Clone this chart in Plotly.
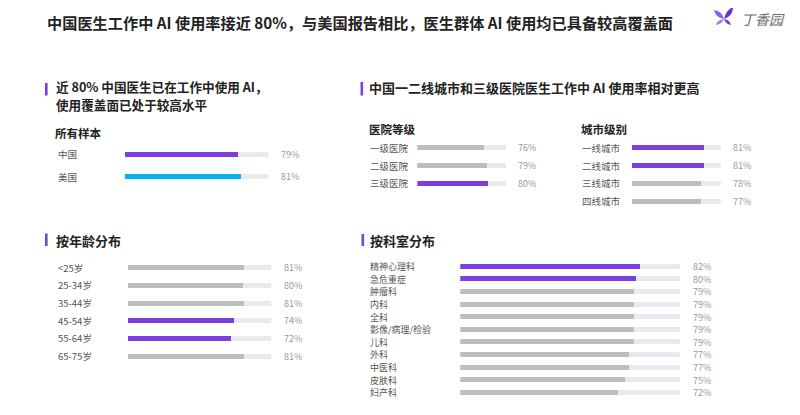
import plotly.graph_objects as go

# the page has an 8px body margin, so the figure is sized to fit inside the window
OFF = 8
W, H = 800 - 2 * OFF, 415 - 2 * OFF

# ---- data ----
title_text = "中国医生工作中 AI 使用率接近 80%，与美国报告相比，医生群体 AI 使用均已具备较高覆盖面"

sample_labels = ["中国", "美国"]
sample_values = [79, 81]

hospital_labels = ["一级医院", "二级医院", "三级医院"]
hospital_values = [76, 79, 80]

city_labels = ["一线城市", "二线城市", "三线城市", "四线城市"]
city_values = [81, 81, 78, 77]

age_labels = ["<25岁", "25-34岁", "35-44岁", "45-54岁", "55-64岁", "65-75岁"]
age_values = [81, 80, 81, 74, 72, 81]

dept_labels = ["精神心理科", "急危重症", "肿瘤科", "内科", "全科", "影像/病理/检验",
               "儿科", "外科", "中医科", "皮肤科", "妇产科"]
dept_values = [82, 80, 79, 79, 79, 79, 79, 77, 77, 75, 72]

# ---- style ----
PURPLE = "#7B3FE0"
CYAN = "#00B4EE"
GRAY = "#BDBDBD"
TRACK = "#E9EAF0"
FONT = "Noto Sans CJK SC"


# screen pixel -> paper coordinates
def px(x):
    return (x - OFF) / W


def py(y):
    return 1 - (y - OFF) / H


fig = go.Figure()
annotations = []
shapes = []

# label list, values, colours, bar x-start, track end, first row y, row step, label x, value x, label size
panels = [
    (sample_labels, sample_values, [PURPLE, CYAN], 125, 268.5, 154.3, 22.3, 56, 290, 9.5),
    (hospital_labels, hospital_values, [GRAY, GRAY, PURPLE], 417.3, 506, 147.7, 17.8, 368, 527, 9.5),
    (city_labels, city_values, [PURPLE, PURPLE, GRAY, GRAY], 631.7, 720.7, 147.7, 17.8, 580, 742, 9.5),
    (age_labels, age_values, [GRAY, GRAY, GRAY, PURPLE, PURPLE, GRAY], 127.7, 271.3, 267.7, 17.67, 56, 293, 9.5),
    (dept_labels, dept_values, [PURPLE, PURPLE] + [GRAY] * 9, 460.3, 680, 266.7, 12.6, 368, 702, 9),
]

for i, (labels, values, colors, x0, x1, y0, step, lab_x, val_x, fs) in enumerate(panels):
    n = len(labels)
    ax = "" if i == 0 else str(i + 1)
    top = y0 - step / 2
    bottom = top + n * step
    bw = 5 / step
    fig.add_trace(go.Bar(x=[100] * n, y=labels, orientation="h", width=bw,
                         marker=dict(color=TRACK, line_width=0), hoverinfo="skip",
                         xaxis="x" + ax, yaxis="y" + ax, showlegend=False))
    fig.add_trace(go.Bar(x=values, y=labels, orientation="h", width=bw,
                         marker=dict(color=colors, line_width=0),
                         xaxis="x" + ax, yaxis="y" + ax, showlegend=False))
    fig.update_layout(**{
        "xaxis" + ax: dict(domain=[px(x0), px(x1)], range=[0, 100], visible=False,
                           anchor="y" + ax, fixedrange=True),
        "yaxis" + ax: dict(domain=[py(bottom), py(top)], range=[n - 0.5, -0.5],
                           visible=False, anchor="x" + ax, type="category", fixedrange=True),
    })
    for lab, v in zip(labels, values):
        annotations.append(dict(x=px(lab_x), xref="paper", y=lab, yref="y" + ax,
                                text=lab.replace("<", "&lt;"), showarrow=False,
                                xanchor="left", yanchor="middle",
                                font=dict(size=fs, color="#555555")))
        annotations.append(dict(x=px(val_x), xref="paper", y=lab, yref="y" + ax,
                                text="%d%%" % v, showarrow=False,
                                xanchor="center", yanchor="middle",
                                font=dict(size=9, color="#9A9A9A")))

# headings: (text, x, y, size)
headings = [
    ("<b>近 80% 中国医生已在工作中使用 AI，</b>", 54, 86, 12.6),
    ("<b>使用覆盖面已处于较高水平</b>", 54, 104, 12.6),
    ("<b>中国一二线城市和三级医院医生工作中 AI 使用率相对更高</b>", 367, 87.5, 13),
    ("<b>按年龄分布</b>", 54, 240, 13),
    ("<b>按科室分布</b>", 368, 240, 13),
    ("<b>所有样本</b>", 53, 133, 11.5),
    ("<b>医院等级</b>", 367, 129, 11.5),
    ("<b>城市级别</b>", 579, 129, 11.5),
]
for txt, x, y, s in headings:
    annotations.append(dict(x=px(x), y=py(y), xref="paper", yref="paper", text=txt,
                            showarrow=False, xanchor="left", yanchor="middle", align="left",
                            font=dict(size=s, color="#222222")))

# purple accent marks next to section headings
for x, ya, yb in [(45, 83, 95.5), (360.5, 82, 95.5), (45, 233.5, 246), (361.5, 234, 246)]:
    shapes.append(dict(type="rect", xref="paper", yref="paper", x0=px(x), x1=px(x + 2.6),
                       y0=py(yb), y1=py(ya), fillcolor=PURPLE, line_width=0))

# main title
annotations.append(dict(x=px(45), y=py(22), xref="paper", yref="paper",
                        text="<b>" + title_text + "</b>", showarrow=False,
                        xanchor="left", yanchor="middle",
                        font=dict(size=15.2, color="#222222")))

# logo
annotations.append(dict(x=px(739), y=py(19), xref="paper", yref="paper", text="<i>丁香园</i>",
                        showarrow=False, xanchor="left", yanchor="middle",
                        font=dict(size=14, color="#6E6E6E")))
petals = [
    ("M 0 0 Q -9 2 -10 9 Q -2 8 0 0 Z", "#8E5CE8"),
    ("M 0 0 Q 2 9 9 12 Q 9 3 0 0 Z", "#6A2FD0"),
    ("M 0 0 Q -7 -1 -8 -6 Q -2 -5 0 0 Z", "#A47CF0"),
    ("M 0 0 Q 6 -1 7 -6 Q 1 -5 0 0 Z", "#7B3FE0"),
]
for p, c in petals:
    shapes.append(dict(type="path", xref="paper", yref="paper", xsizemode="pixel",
                       ysizemode="pixel", xanchor=px(724), yanchor=py(19), path=p,
                       fillcolor=c, line_width=0))

fig.update_layout(
    width=W, height=H,
    margin=dict(l=0, r=0, t=0, b=0),
    paper_bgcolor="white", plot_bgcolor="rgba(0,0,0,0)",
    barmode="overlay", bargap=0,
    font=dict(family=FONT, color="#333333"),
    annotations=annotations, shapes=shapes,
    showlegend=False,
)

fig.write_html("out.html")
